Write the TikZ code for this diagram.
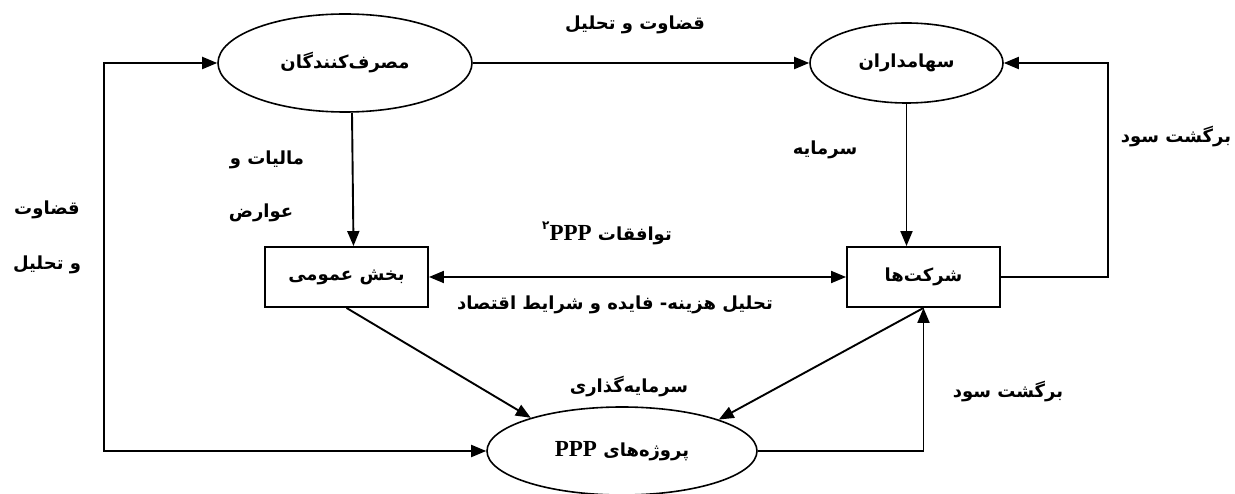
\documentclass[tikz,border=0pt]{standalone}
\usepackage{fontspec}
\usetikzlibrary{arrows.meta,shapes.geometric}
\TeXXeTstate=1
\newfontfamily\fa[Script=Arabic]{DejaVu Sans}
\newfontfamily\lat{Liberation Serif}
\newcommand{\rtl}[1]{\beginR #1\endR}
\newcommand{\ppp}{\hbox{\lat\bfseries\fontsize{23}{24}\selectfont PPP}}
\begin{document}
\begin{tikzpicture}[x=1pt,y=-1pt,
  line width=1.9pt,
  >={Triangle[length=15pt,width=12pt]},
  txt/.style={font=\fa\bfseries\fontsize{18}{20}\selectfont, inner sep=0pt},
  lbl/.style={txt},
  ell/.style={txt, draw, ellipse, line width=1.6pt},
  boxn/.style={txt, draw, rectangle, line width=1.9pt}]
\useasboundingbox (0,0) rectangle (1235,494);

% nodes
\node[ell, minimum width=254, minimum height=98] (cons) at (345,63) {\rtl{مصرف‌کنندگان}};
\node[ell, minimum width=193, minimum height=80] (share) at (906.5,63) {\rtl{سهامداران}};
\node[boxn, minimum width=163, minimum height=60] (pub) at (346.5,277) {\rtl{بخش عمومی}};
\node[boxn, minimum width=153, minimum height=60] (comp) at (923.5,277) {\rtl{شرکت‌ها}};
\node[ell, minimum width=270, minimum height=88] (ppp) at (622,451) {\rtl{پروژه‌های \ppp}};

% helper coordinates
\coordinate (L) at (104,250);
\coordinate (R) at (1108,170);

% connectors
\draw[->] (cons) -- (share);
\draw[->] ([xshift=7pt]cons.south) -- ([xshift=7pt]pub.north);
\draw[->] (share.south) -- (share.south |- comp.north);
\draw (comp.east) -| (R);
\draw[->] (R) |- (share.east);
\draw[->] (L) |- (cons.west);
\draw[->] (L) |- (ppp.west);
\draw[<->] (pub.east) -- (comp.west);
\draw[->] (pub.south) -- (ppp.160);
\draw[->] (comp.south) -- (ppp.18);
\draw[->] (ppp.east) -| (comp.south);

% labels
\node[lbl] (l1) at (635,25) {\rtl{قضاوت و تحلیل}};
\node[lbl] (l2) at (825,150) {\rtl{سرمایه}};
\node[lbl] (l3) at (1176,137) {\rtl{برگشت سود}};
\node[lbl] (l4) at (267,160) {\rtl{مالیات و}};
\node[lbl] (l5) at (261,213) {\rtl{عوارض}};
\node[lbl] (l6) at (47,210) {\rtl{قضاوت}};
\node[lbl] (l7) at (47,265) {\rtl{و تحلیل}};
\node[lbl] (l8) at (607,233) {\rtl{توافقات \ppp\raisebox{0.6em}{\fontsize{12}{12}\selectfont ۲}}};
\node[lbl] (l9) at (615,305) {\rtl{تحلیل هزینه- فایده و شرایط اقتصاد}};
\node[lbl] (l10) at (629,387) {\rtl{سرمایه‌گذاری}};
\node[lbl] (l11) at (1008,392) {\rtl{برگشت سود}};
\end{tikzpicture}
\end{document}
